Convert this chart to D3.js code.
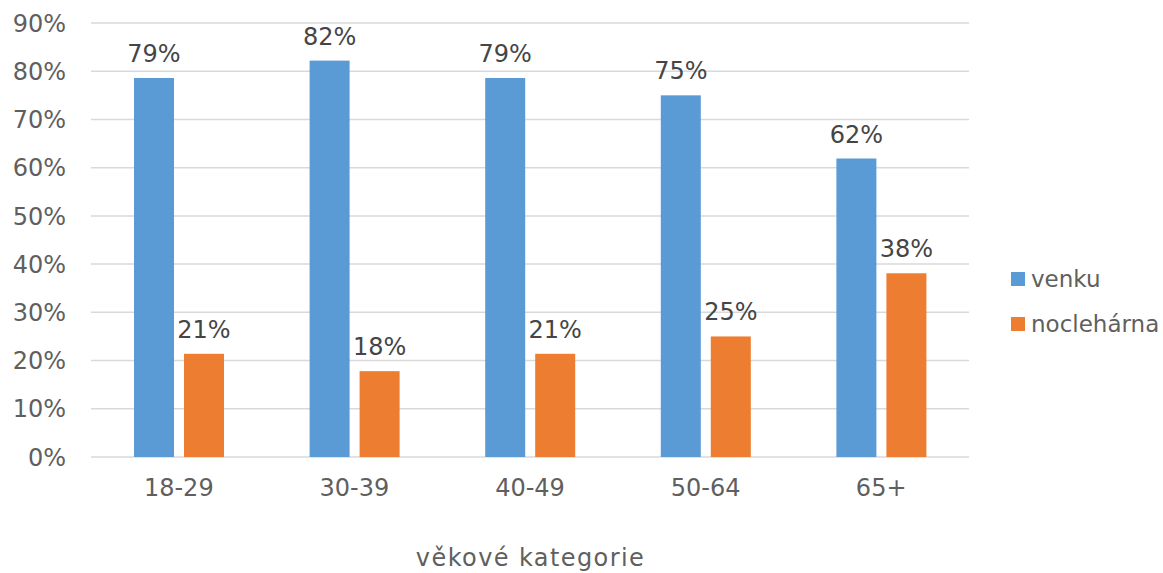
<!DOCTYPE html>
<html><head><meta charset="utf-8">
<script src="https://cdn.jsdelivr.net/npm/d3@7"></script>
<style>body{margin:0;background:#fff}svg{display:block}text{font-family:"DejaVu Sans",Verdana,sans-serif}</style>
</head><body>
<svg id="c" width="1163" height="573"></svg>
<script>
const categories = ["18-29","30-39","40-49","50-64","65+"];
const seriesNames = ["venku","noclehárna"];
const venku = [78.6, 82.2, 78.6, 75.0, 61.9];
const noclegarna = [21.4, 17.8, 21.4, 25.0, 38.1];
const yTicks = [0,10,20,30,40,50,60,70,80,90];
const axisTitle = "věkové kategorie";
const colors = ["#5B9BD5","#ED7D31"];

const svg = d3.select("#c");
const L = 91, R = 969, T = 23, B = 457;
const x0 = d3.scaleBand().domain(categories).range([L, R]).padding(0);
const x1 = d3.scaleBand().domain(seriesNames).range([43, 133]).paddingInner(0.2);
const y = d3.scaleLinear().domain([0, 90]).range([B, T]);
const color = d3.scaleOrdinal().domain(seriesNames).range(colors);
const fs = 24;
const tc = "#5f5f5f";

// gridlines
svg.append("g").selectAll("line").data(yTicks).join("line")
  .attr("x1", L).attr("x2", R)
  .attr("y1", d => y(d)).attr("y2", d => y(d))
  .attr("stroke", "#d9d9d9").attr("stroke-width", 1.5);

// y labels
svg.append("g").selectAll("text").data(yTicks).join("text")
  .attr("x", 66).attr("y", d => y(d)).attr("dy", "0.36em")
  .attr("text-anchor", "end").attr("font-size", fs).attr("fill", tc)
  .text(d => d + "%");

const data = categories.map((c, i) => ({cat: c, vals: [
  {s: seriesNames[0], v: venku[i]}, {s: seriesNames[1], v: noclegarna[i]}]}));

const g = svg.append("g").selectAll("g").data(data).join("g")
  .attr("transform", d => `translate(${x0(d.cat)},0)`);
g.selectAll("rect").data(d => d.vals).join("rect")
  .attr("x", d => x1(d.s)).attr("width", x1.bandwidth())
  .attr("y", d => y(d.v)).attr("height", d => y(0) - y(d.v))
  .attr("fill", d => color(d.s));
g.selectAll("text").data(d => d.vals).join("text")
  .attr("x", d => x1(d.s) + x1.bandwidth() / 2)
  .attr("y", d => y(d.v) - 16)
  .attr("text-anchor", "middle").attr("font-size", fs).attr("fill", "#454545")
  .text(d => Math.round(d.v) + "%");

// category labels
svg.append("g").selectAll("text").data(categories).join("text")
  .attr("x", d => x0(d) + x0.bandwidth() / 2).attr("y", 496)
  .attr("text-anchor", "middle").attr("font-size", fs).attr("fill", tc)
  .text(d => d);

// axis title
svg.append("text").attr("x", (L + R) / 2 + 0.5).attr("y", 566)
  .attr("text-anchor", "middle").attr("font-size", fs).attr("fill", tc)
  .attr("letter-spacing", 1.4)
  .text(axisTitle);

// legend
const lg = svg.append("g").selectAll("g").data(seriesNames).join("g")
  .attr("transform", (d, i) => `translate(1011,${272 + i * 45})`);
lg.append("rect").attr("width", 14).attr("height", 14).attr("fill", d => color(d));
lg.append("text").attr("x", 20).attr("y", 14.5).attr("font-size", 23).attr("fill", tc).text(d => d);
</script>
</body></html>
